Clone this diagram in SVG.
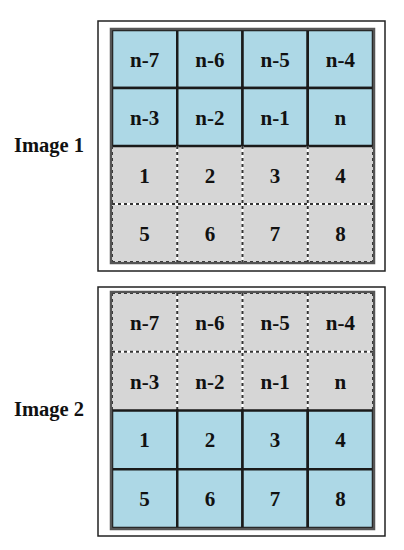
<svg xmlns="http://www.w3.org/2000/svg" width="404" height="550" viewBox="0 0 404 550">
<style>
.frame{fill:#fff;stroke:#222;stroke-width:1.5}
.grid{fill:none;stroke:#555;stroke-width:2.5}
.blue{fill:#add8e6;stroke:#1a1a1a;stroke-width:2.5}
.gray{fill:#d6d6d6;stroke:none}
.dw{fill:none;stroke:#fff;stroke-width:2}
.dd{fill:none;stroke:#333;stroke-width:2;stroke-dasharray:3 3}
text{font-family:"Liberation Serif","Times New Roman",serif;font-weight:bold;fill:#111;text-anchor:middle}
.c{font-size:21px}
.lbl{font-size:20.5px}
</style>
<rect width="404" height="550" fill="#fff"/>
<g id="frame1"><rect class="frame" x="98" y="21" width="287" height="250"/></g>
<g id="frame2"><rect class="frame" x="98" y="287" width="287" height="249"/></g>
<g id="label1"><text class="lbl" x="49" y="152">Image 1</text></g>
<g id="label2"><text class="lbl" x="49" y="416">Image 2</text></g>

<!-- Image 1 -->
<g id="img1">
<g id="i1-gray-bg"><rect class="gray" x="112" y="146" width="261" height="116"/></g>
<g id="i1-n-7"><rect class="blue" x="112" y="30" width="65.25" height="58"/><text class="c" x="144.6" y="66.5">n-7</text></g>
<g id="i1-n-6"><rect class="blue" x="177.25" y="30" width="65.25" height="58"/><text class="c" x="209.9" y="66.5">n-6</text></g>
<g id="i1-n-5"><rect class="blue" x="242.5" y="30" width="65.25" height="58"/><text class="c" x="275.1" y="66.5">n-5</text></g>
<g id="i1-n-4"><rect class="blue" x="307.75" y="30" width="65.25" height="58"/><text class="c" x="340.4" y="66.5">n-4</text></g>
<g id="i1-n-3"><rect class="blue" x="112" y="88" width="65.25" height="58"/><text class="c" x="144.6" y="124.5">n-3</text></g>
<g id="i1-n-2"><rect class="blue" x="177.25" y="88" width="65.25" height="58"/><text class="c" x="209.9" y="124.5">n-2</text></g>
<g id="i1-n-1"><rect class="blue" x="242.5" y="88" width="65.25" height="58"/><text class="c" x="275.1" y="124.5">n-1</text></g>
<g id="i1-n"><rect class="blue" x="307.75" y="88" width="65.25" height="58"/><text class="c" x="340.4" y="124.5">n</text></g>
<g id="i1-dashes">
<path class="dw" d="M112 204H373M177.25 146V262M242.5 146V262M307.75 146V262M112 262H373M112 146V262M373 146V262"/>
<path class="dd" d="M112 204H373M177.25 146V262M242.5 146V262M307.75 146V262M112 262H373M112 146V262M373 146V262"/>
</g>
<g id="i1-1"><text class="c" x="144.6" y="182.5">1</text></g>
<g id="i1-2"><text class="c" x="209.9" y="182.5">2</text></g>
<g id="i1-3"><text class="c" x="275.1" y="182.5">3</text></g>
<g id="i1-4"><text class="c" x="340.4" y="182.5">4</text></g>
<g id="i1-5"><text class="c" x="144.6" y="240.5">5</text></g>
<g id="i1-6"><text class="c" x="209.9" y="240.5">6</text></g>
<g id="i1-7"><text class="c" x="275.1" y="240.5">7</text></g>
<g id="i1-8"><text class="c" x="340.4" y="240.5">8</text></g>
<rect class="grid" x="111" y="29" width="263" height="234"/>
</g>

<!-- Image 2 -->
<g id="img2">
<g id="i2-gray-bg"><rect class="gray" x="112" y="293" width="261" height="117.5"/></g>
<g id="i2-dashes">
<path class="dw" d="M112 293H373M112 351.75H373M177.25 293V410.5M242.5 293V410.5M307.75 293V410.5M112 293V410.5M373 293V410.5"/>
<path class="dd" d="M112 293H373M112 351.75H373M177.25 293V410.5M242.5 293V410.5M307.75 293V410.5M112 293V410.5M373 293V410.5"/>
</g>
<g id="i2-n-7"><text class="c" x="144.6" y="329.5">n-7</text></g>
<g id="i2-n-6"><text class="c" x="209.9" y="329.5">n-6</text></g>
<g id="i2-n-5"><text class="c" x="275.1" y="329.5">n-5</text></g>
<g id="i2-n-4"><text class="c" x="340.4" y="329.5">n-4</text></g>
<g id="i2-n-3"><text class="c" x="144.6" y="388.5">n-3</text></g>
<g id="i2-n-2"><text class="c" x="209.9" y="388.5">n-2</text></g>
<g id="i2-n-1"><text class="c" x="275.1" y="388.5">n-1</text></g>
<g id="i2-n"><text class="c" x="340.4" y="388.5">n</text></g>
<g id="i2-1"><rect class="blue" x="112" y="410.5" width="65.25" height="58.75"/><text class="c" x="144.6" y="447">1</text></g>
<g id="i2-2"><rect class="blue" x="177.25" y="410.5" width="65.25" height="58.75"/><text class="c" x="209.9" y="447">2</text></g>
<g id="i2-3"><rect class="blue" x="242.5" y="410.5" width="65.25" height="58.75"/><text class="c" x="275.1" y="447">3</text></g>
<g id="i2-4"><rect class="blue" x="307.75" y="410.5" width="65.25" height="58.75"/><text class="c" x="340.4" y="447">4</text></g>
<g id="i2-5"><rect class="blue" x="112" y="469.25" width="65.25" height="58.75"/><text class="c" x="144.6" y="505.5">5</text></g>
<g id="i2-6"><rect class="blue" x="177.25" y="469.25" width="65.25" height="58.75"/><text class="c" x="209.9" y="505.5">6</text></g>
<g id="i2-7"><rect class="blue" x="242.5" y="469.25" width="65.25" height="58.75"/><text class="c" x="275.1" y="505.5">7</text></g>
<g id="i2-8"><rect class="blue" x="307.75" y="469.25" width="65.25" height="58.75"/><text class="c" x="340.4" y="505.5">8</text></g>
<rect class="grid" x="111" y="292" width="263" height="237"/>
</g>
</svg>
